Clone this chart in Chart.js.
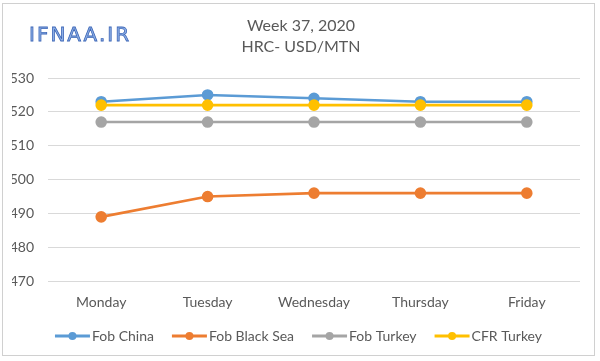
<!DOCTYPE html>
<html>
<head>
<meta charset="utf-8">
<script src="https://cdn.jsdelivr.net/npm/chart.js@4/dist/chart.umd.min.js"></script>
<style>
  body { margin: 0; background: #fff; }
  #wrap { position: relative; width: 600px; height: 361px; }
  #frame { position: absolute; left: 2px; top: 3px; width: 593px; height: 353px; border: 1px solid #d0d0d0; box-sizing: border-box; pointer-events: none; }
  #logo { position: absolute; left: 29px; top: 22px; font-family: "DejaVu Sans", sans-serif; font-size: 20px; letter-spacing: 2px;
          color: #8eb0e6; -webkit-text-stroke: 0.8px #3f68b8; }
</style>
</head>
<body>
<div id="wrap">
  <canvas id="myChart" width="600" height="361"></canvas>
  <div id="frame"></div>
  <div id="logo">IFNAA.IR</div>
</div>
<script>
var days = ["Monday", "Tuesday", "Wednesday", "Thursday", "Friday"]
var fobChina = [523, 525, 524, 523, 523]
var fobBlackSea = [489, 495, 496, 496, 496]
var fobTurkey = [517, 517, 517, 517, 517]
var cfrTurkey = [522, 522, 522, 522, 522]
var titleLines = ["Week 37, 2020", "HRC- USD/MTN"]

var font = "Lato"
var grey = "#595959"

function series(label, data, color, order) {
    return {
        label: label,
        data: data,
        borderColor: color,
        backgroundColor: color,
        pointBackgroundColor: color,
        pointBorderColor: color,
        borderWidth: 2.6,
        pointRadius: 4.5,
        order: order
    }
}

// title centred on the whole picture, not on the layout box
var centreTitle = {
    id: "centreTitle",
    afterDraw: function(chart) {
        var ctx = chart.ctx
        ctx.save()
        ctx.fillStyle = grey
        ctx.font = "16px " + font
        ctx.textAlign = "center"
        ctx.textBaseline = "middle"
        ctx.fillText(titleLines[0], 301, 26)
        ctx.fillText(titleLines[1], 301, 47)
        ctx.restore()
    }
}

// excel style legend marker: long line with a dot in the middle
var legendDots = {
    id: "legendDots",
    afterDraw: function(chart) {
        var lg = chart.legend
        if (!lg || !lg.legendHitBoxes) return
        var ctx = chart.ctx
        lg.legendItems.forEach(function(item, i) {
            var box = lg.legendHitBoxes[i]
            var y = box.top + box.height / 2
            var color = chart.data.datasets[item.datasetIndex].borderColor
            ctx.save()
            ctx.strokeStyle = color
            ctx.fillStyle = color
            ctx.lineWidth = 3
            ctx.beginPath()
            ctx.moveTo(box.left + 5, y)
            ctx.lineTo(box.left + 40, y)
            ctx.stroke()
            ctx.beginPath()
            ctx.arc(box.left + 22.5, y, 4, 0, Math.PI * 2)
            ctx.fill()
            ctx.restore()
        })
    }
}

var myChart = document.getElementById("myChart").getContext('2d')
var chart = new Chart(myChart, {
    type: 'line',
    data: {
        labels: days,
        datasets: [
            series("Fob China", fobChina, "#5b9bd5", 3),
            series("Fob Black Sea", fobBlackSea, "#ed7d31", 2),
            series("Fob Turkey", fobTurkey, "#a5a5a5", 1),
            series("CFR Turkey", cfrTurkey, "#ffc000", 0)
        ]
    },
    plugins: [centreTitle, legendDots],
    options: {
        responsive: false,
        animation: false,
        layout: { padding: { left: 12, right: 20, top: 78, bottom: 8 } },
        plugins: {
            title: { display: false },
            legend: {
                position: "bottom",
                labels: {
                    color: grey,
                    font: { family: font, size: 14 },
                    boxWidth: 35,
                    boxHeight: 3,
                    padding: 13,
                    generateLabels: function(chart) {
                        var items = Chart.defaults.plugins.legend.labels.generateLabels(chart)
                        items.forEach(function(it) {
                            it.fillStyle = "rgba(0,0,0,0)"
                            it.strokeStyle = "rgba(0,0,0,0)"
                            it.lineWidth = 0
                        })
                        return items
                    },
                    sort: function(a, b) { return a.datasetIndex - b.datasetIndex }
                }
            },
            tooltip: { enabled: false }
        },
        scales: {
            x: {
                offset: true,
                grid: { display: false },
                border: { display: false },
                ticks: { color: grey, font: { family: font, size: 14 }, padding: 5 }
            },
            y: {
                min: 470,
                max: 530,
                grid: { color: "#d9d9d9", drawTicks: false },
                border: { display: false },
                ticks: { stepSize: 10, color: grey, font: { family: font, size: 14 }, padding: 14 },
                afterFit: function(axis) { axis.width = 36 }
            }
        }
    }
})
</script>
</body>
</html>
